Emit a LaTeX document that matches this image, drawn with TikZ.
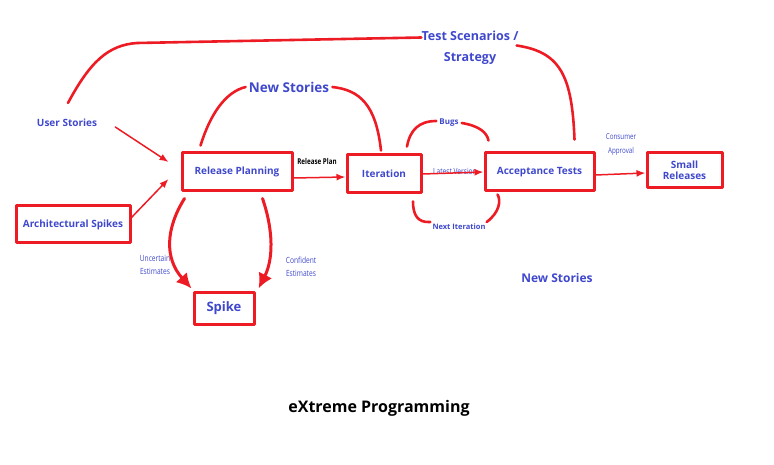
\documentclass[tikz,border=0pt]{standalone}
\usepackage{fontspec}
\setmainfont{Open Sans}
\newfontfamily\narrowfont[FakeStretch=0.78]{Open Sans}
\usetikzlibrary{arrows.meta}
\begin{document}
\begin{tikzpicture}[x=1pt, y=-1pt, line join=round, line cap=round,
  box/.style={draw=xpred, line width=3pt, minimum width=#1, inner sep=0pt,
    font=\bfseries\fontsize{10}{12}\selectfont, text=xpblue},
  lbl/.style={text=xpblue, font=\bfseries\fontsize{10}{12}\selectfont, inner sep=0pt},
  small/.style={text=xpblue, font=\narrowfont\fontsize{8.5}{13}\selectfont, inner sep=0pt, align=center},
  curve/.style={draw=xpred, line width=2.6pt},
  thin/.style={draw=xpred, line width=1.5pt, -{Latex[length=9pt,width=7pt]}},
  fat/.style={draw=xpred, line width=3pt, -{Latex[length=15pt,width=15pt]}}]
  \definecolor{xpred}{HTML}{ED1C24}
  \definecolor{xpblue}{HTML}{3F48CC}
  \useasboundingbox (0,0) rectangle (774,465);
  % boxes
  \node[box=110pt, minimum height=38pt] (rp) at (237,172) {Release Planning};
  \node[box=74pt, minimum height=38pt] (it) at (384,174) {Iteration};
  \node[box=109pt, minimum height=38pt] (at) at (539.5,172) {Acceptance Tests};
  \node[box=75pt, minimum height=35pt, align=center] (sr) at (684.5,170.5) {Small\\[-1pt]Releases};
  \node[box=114pt, minimum height=37pt] (as) at (73,224.5) {Architectural Spikes};
  \node[box=60pt, minimum height=32pt, font=\bfseries\fontsize{13}{15}\selectfont] (sp) at (224,308) {Spike};
  % labels
  \node[lbl] (us) at (67,123) {User Stories};
  \node[lbl, font=\bfseries\fontsize{13.5}{15}\selectfont] (ns) at (289,87) {New Stories};
  \node[lbl, font=\bfseries\fontsize{12.5}{21}\selectfont, align=center] (ts) at (470,47.5) {Test Scenarios /\\Strategy};
  \node[lbl, font=\bfseries\fontsize{8}{10}\selectfont] (bg) at (449,123) {Bugs};
  \node[lbl, font=\bfseries\fontsize{7.5}{10}\selectfont] (ni) at (459,227) {Next Iteration};
  \node[lbl, font=\bfseries\fontsize{12}{14}\selectfont] (ns2) at (557,278) {New Stories};
  \node[small, text=black, font=\narrowfont\bfseries\fontsize{8}{10}\selectfont] (rpl) at (317,162) {Release Plan};
  \node[small] (lv) at (455,171) {Latest Version};
  \node[small, font=\narrowfont\fontsize{8}{14}\selectfont] (ca) at (621,145) {Consumer\\Approval};
  \node[small] (ue) at (155,265) {Uncertain\\Estimates};
  \node[small] (ce) at (301,267) {Confident\\Estimates};
  \node[font=\bfseries\fontsize{16}{18}\selectfont] (title) at (379,408) {eXtreme Programming};
  % connectors
  \draw[curve] ([xshift=1pt,yshift=16pt]us.north) .. controls (90,62) and (108,45) .. (137,43) -- ([yshift=10pt]ts.west);
  \draw[curve] ([xshift=-2pt,yshift=2pt]ts.east) .. controls (560,52) and (572,75) .. ([xshift=-21pt,yshift=12pt]at.north east);
  \draw[curve] ([xshift=20pt,yshift=6pt]rp.north west) .. controls (210,115) and (225,92) .. ([xshift=-3pt]ns.west);
  \draw[curve] ([xshift=3pt]ns.east) .. controls (360,90) and (376,105) .. ([xshift=-3pt,yshift=3pt]it.north);
  \draw[curve] ([xshift=23pt,yshift=7pt]it.north) .. controls (410,130) and (419,121) .. ([xshift=-3pt,yshift=2pt]bg.west);
  \draw[curve] ([xshift=3pt]bg.east) .. controls (480,126) and (487,133) .. ([xshift=5pt,yshift=11pt]at.north west);
  \draw[curve] ([xshift=29pt,yshift=-7pt]it.south) .. controls (413,214) and (417,223) .. ([xshift=-2pt,yshift=5pt]ni.west);
  \draw[curve] ([xshift=1pt,yshift=5pt]ni.east) .. controls (500,212) and (501,200) .. ([xshift=14pt,yshift=-2pt]at.south west);
  \draw[thin] ([xshift=18pt,yshift=-4pt]us.east) -- ([xshift=-12pt,yshift=10pt]rp.west);
  \draw[thin] ([yshift=7pt]as.east) -- ([xshift=-12pt,yshift=-7pt]rp.west);
  \draw[thin] ([yshift=-6pt]rp.east) -- ([yshift=-3pt]it.west);
  \draw[thin] (it.east) -- (at.west);
  \draw[thin] ([yshift=-3pt]at.east) -- ([yshift=-2.5pt]sr.west);
  \draw[fat] ([xshift=4pt,yshift=-6pt]rp.south west) .. controls (166,228) and (164,258) .. ([xshift=-1pt,yshift=2pt]sp.north west);
  \draw[fat] ([xshift=-31pt,yshift=-6pt]rp.south east) .. controls (274,232) and (273,260) .. ([xshift=3pt,yshift=2pt]sp.north east);
\end{tikzpicture}
\end{document}
